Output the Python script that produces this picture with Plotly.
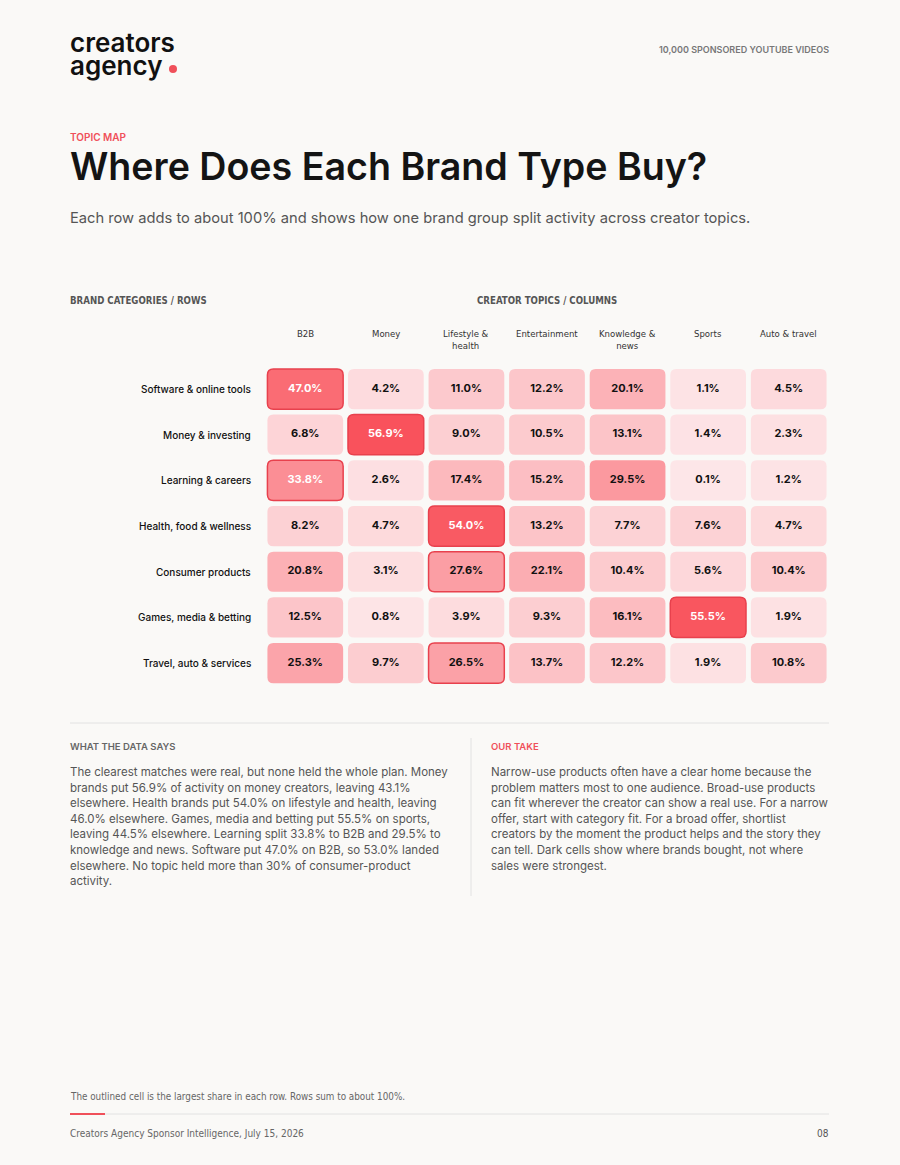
import plotly.graph_objects as go
from plotly.colors import sample_colorscale

W, H = 900, 1165

columns = ["B2B", "Money", "Lifestyle &<br>health", "Entertainment", "Knowledge &<br>news", "Sports", "Auto & travel"]
rows = ["Software & online tools", "Money & investing", "Learning & careers", "Health, food & wellness",
        "Consumer products", "Games, media & betting", "Travel, auto & services"]
software = [47.0, 4.2, 11.0, 12.2, 20.1, 1.1, 4.5]
money = [6.8, 56.9, 9.0, 10.5, 13.1, 1.4, 2.3]
learning = [33.8, 2.6, 17.4, 15.2, 29.5, 0.1, 1.2]
health = [8.2, 4.7, 54.0, 13.2, 7.7, 7.6, 4.7]
consumer = [20.8, 3.1, 27.6, 22.1, 10.4, 5.6, 10.4]
games = [12.5, 0.8, 3.9, 9.3, 16.1, 55.5, 1.9]
travel = [25.3, 9.7, 26.5, 13.7, 12.2, 1.9, 10.8]
values = [software, money, learning, health, consumer, games, travel]

BG = "#faf9f7"
RED = "#f0505a"
FONT = "Inter, Noto Sans, sans-serif"
NARROW = "Liberation Sans Narrow, DejaVu Sans Condensed, Roboto, sans-serif"


def px(x):
    return x / W


def py(y):
    return 1 - y / H


vmax = max(max(r) for r in values)
scale = [[0, "#fde6e8"], [1, "#f9525c"]]

fig = go.Figure()

x0p, x1p = 265, 829
y0p, y1p = 366.2, 685.9

shapes = []
hw, hh = 0.47, 0.44
rx = 6 / ((x1p - x0p) / 7)
ry = 6 / ((y1p - y0p) / 7)


def rounded(cx, cy):
    l, r, t, b = cx - hw, cx + hw, cy - hh, cy + hh
    return (f"M {l+rx},{t} L {r-rx},{t} Q {r},{t} {r},{t+ry} L {r},{b-ry} Q {r},{b} {r-rx},{b} "
            f"L {l+rx},{b} Q {l},{b} {l},{b-ry} L {l},{t+ry} Q {l},{t} {l+rx},{t} Z")


tx, ty, tt, tc = [], [], [], []
for i, row in enumerate(values):
    rmax = max(row)
    for j, v in enumerate(row):
        col = sample_colorscale(scale, [v / vmax])[0]
        is_max = v == rmax
        shapes.append(dict(type="path", xref="x", yref="y", path=rounded(j, i), fillcolor=col,
                           line=dict(color="#e8414d" if is_max else "rgba(0,0,0,0)", width=1.5 if is_max else 0),
                           layer="below"))
        tx.append(j)
        ty.append(i)
        tt.append(f"<b>{v:.1f}%</b>")
        tc.append("#ffffff" if v > 30 else "#111111")

fig.add_trace(go.Scatter(x=tx, y=ty, mode="text", text=tt, textfont=dict(family=FONT, size=11, color=tc),
                         hoverinfo="skip", showlegend=False))

fig.update_xaxes(range=[-0.5, 6.5], domain=[px(x0p), px(x1p)], visible=False, fixedrange=True)
fig.update_yaxes(range=[6.5, -0.5], domain=[py(y1p), py(y0p)], visible=False, fixedrange=True)

ann = []


def text(x, y, s, size, color="#111", xanchor="left", family=FONT, yanchor="middle", align="left", weight=400):
    if xanchor == "left":
        x -= 2
    elif xanchor == "right":
        x += 2
    ann.append(dict(x=px(x), y=py(y), xref="paper", yref="paper", text=s, showarrow=False,
                    xanchor=xanchor, yanchor=yanchor, align=align,
                    font=dict(family=family, size=size, color=color, weight=weight)))


# logo
text(70, 43, "creators", 26, "#111", weight=600)
text(70, 65, "agency", 26, "#111", weight=600)
shapes.append(dict(type="circle", xref="paper", yref="paper", x0=px(169), x1=px(177), y0=py(65), y1=py(73),
                   fillcolor=RED, line=dict(width=0)))

text(829, 50, "10,000 SPONSORED YOUTUBE VIDEOS", 9, "#777", xanchor="right", weight=600)
text(70, 137, "TOPIC MAP", 10, RED, weight=600)
text(70, 166, "Where Does Each Brand Type Buy?", 37.6, "#141414", weight=600)
text(70, 218, "Each row adds to about 100% and shows how one brand group split activity across creator topics.", 14.7, "#555")

text(70, 300, "<b>BRAND CATEGORIES / ROWS</b>", 9.6, "#555", family=NARROW)
text(547, 300, "<b>CREATOR TOPICS / COLUMNS</b>", 9.6, "#555", xanchor="center", family=NARROW)

for j, c in enumerate(columns):
    cx = x0p + (j + 0.5) * (x1p - x0p) / 7
    text(cx, 326, c, 9.5, "#333", xanchor="center", family=NARROW, yanchor="top", align="center")

for i, r in enumerate(rows):
    cy = y0p + (i + 0.5) * (y1p - y0p) / 7
    text(251, cy, r, 10, "#111", xanchor="right", weight=500)

shapes.append(dict(type="line", xref="paper", yref="paper", x0=px(70), x1=px(829), y0=py(723), y1=py(723),
                   line=dict(color="#e2e2e2", width=1)))
shapes.append(dict(type="line", xref="paper", yref="paper", x0=px(471), x1=px(471), y0=py(738), y1=py(896),
                   line=dict(color="#e2e2e2", width=1)))

text(70, 746, "WHAT THE DATA SAYS", 9.5, "#666", weight=600)
left_body = ["The clearest matches were real, but none held the whole plan. Money",
             "brands put 56.9% of activity on money creators, leaving 43.1%",
             "elsewhere. Health brands put 54.0% on lifestyle and health, leaving",
             "46.0% elsewhere. Games, media and betting put 55.5% on sports,",
             "leaving 44.5% elsewhere. Learning split 33.8% to B2B and 29.5% to",
             "knowledge and news. Software put 47.0% on B2B, so 53.0% landed",
             "elsewhere. No topic held more than 30% of consumer-product",
             "activity."]
for k, line in enumerate(left_body):
    text(70, 772 + k * 15.6, line, 11.5, "#555")

text(491, 746, "OUR TAKE", 9.5, RED, weight=600)
right_body = ["Narrow-use products often have a clear home because the",
              "problem matters most to one audience. Broad-use products",
              "can fit wherever the creator can show a real use. For a narrow",
              "offer, start with category fit. For a broad offer, shortlist",
              "creators by the moment the product helps and the story they",
              "can tell. Dark cells show where brands bought, not where",
              "sales were strongest."]
for k, line in enumerate(right_body):
    text(491, 772 + k * 15.6, line, 11.5, "#555")

text(70, 1096, "The outlined cell is the largest share in each row. Rows sum to about 100%.", 9.8, "#666", family=NARROW)
shapes.append(dict(type="line", xref="paper", yref="paper", x0=px(70), x1=px(829), y0=py(1114), y1=py(1114),
                   line=dict(color="#e2e2e2", width=1)))
shapes.append(dict(type="line", xref="paper", yref="paper", x0=px(70), x1=px(105), y0=py(1114), y1=py(1114),
                   line=dict(color=RED, width=2)))
text(70, 1133, "Creators Agency Sponsor Intelligence, July 15, 2026", 10, "#666", family=NARROW)
text(829, 1133, "08", 10, "#555", xanchor="right", family=NARROW)

fig.update_layout(width=W, height=H, margin=dict(l=0, r=0, t=0, b=0), paper_bgcolor=BG, plot_bgcolor=BG,
                  shapes=shapes, annotations=ann, showlegend=False)

fig.write_html("out.html", config={"displayModeBar": False})
